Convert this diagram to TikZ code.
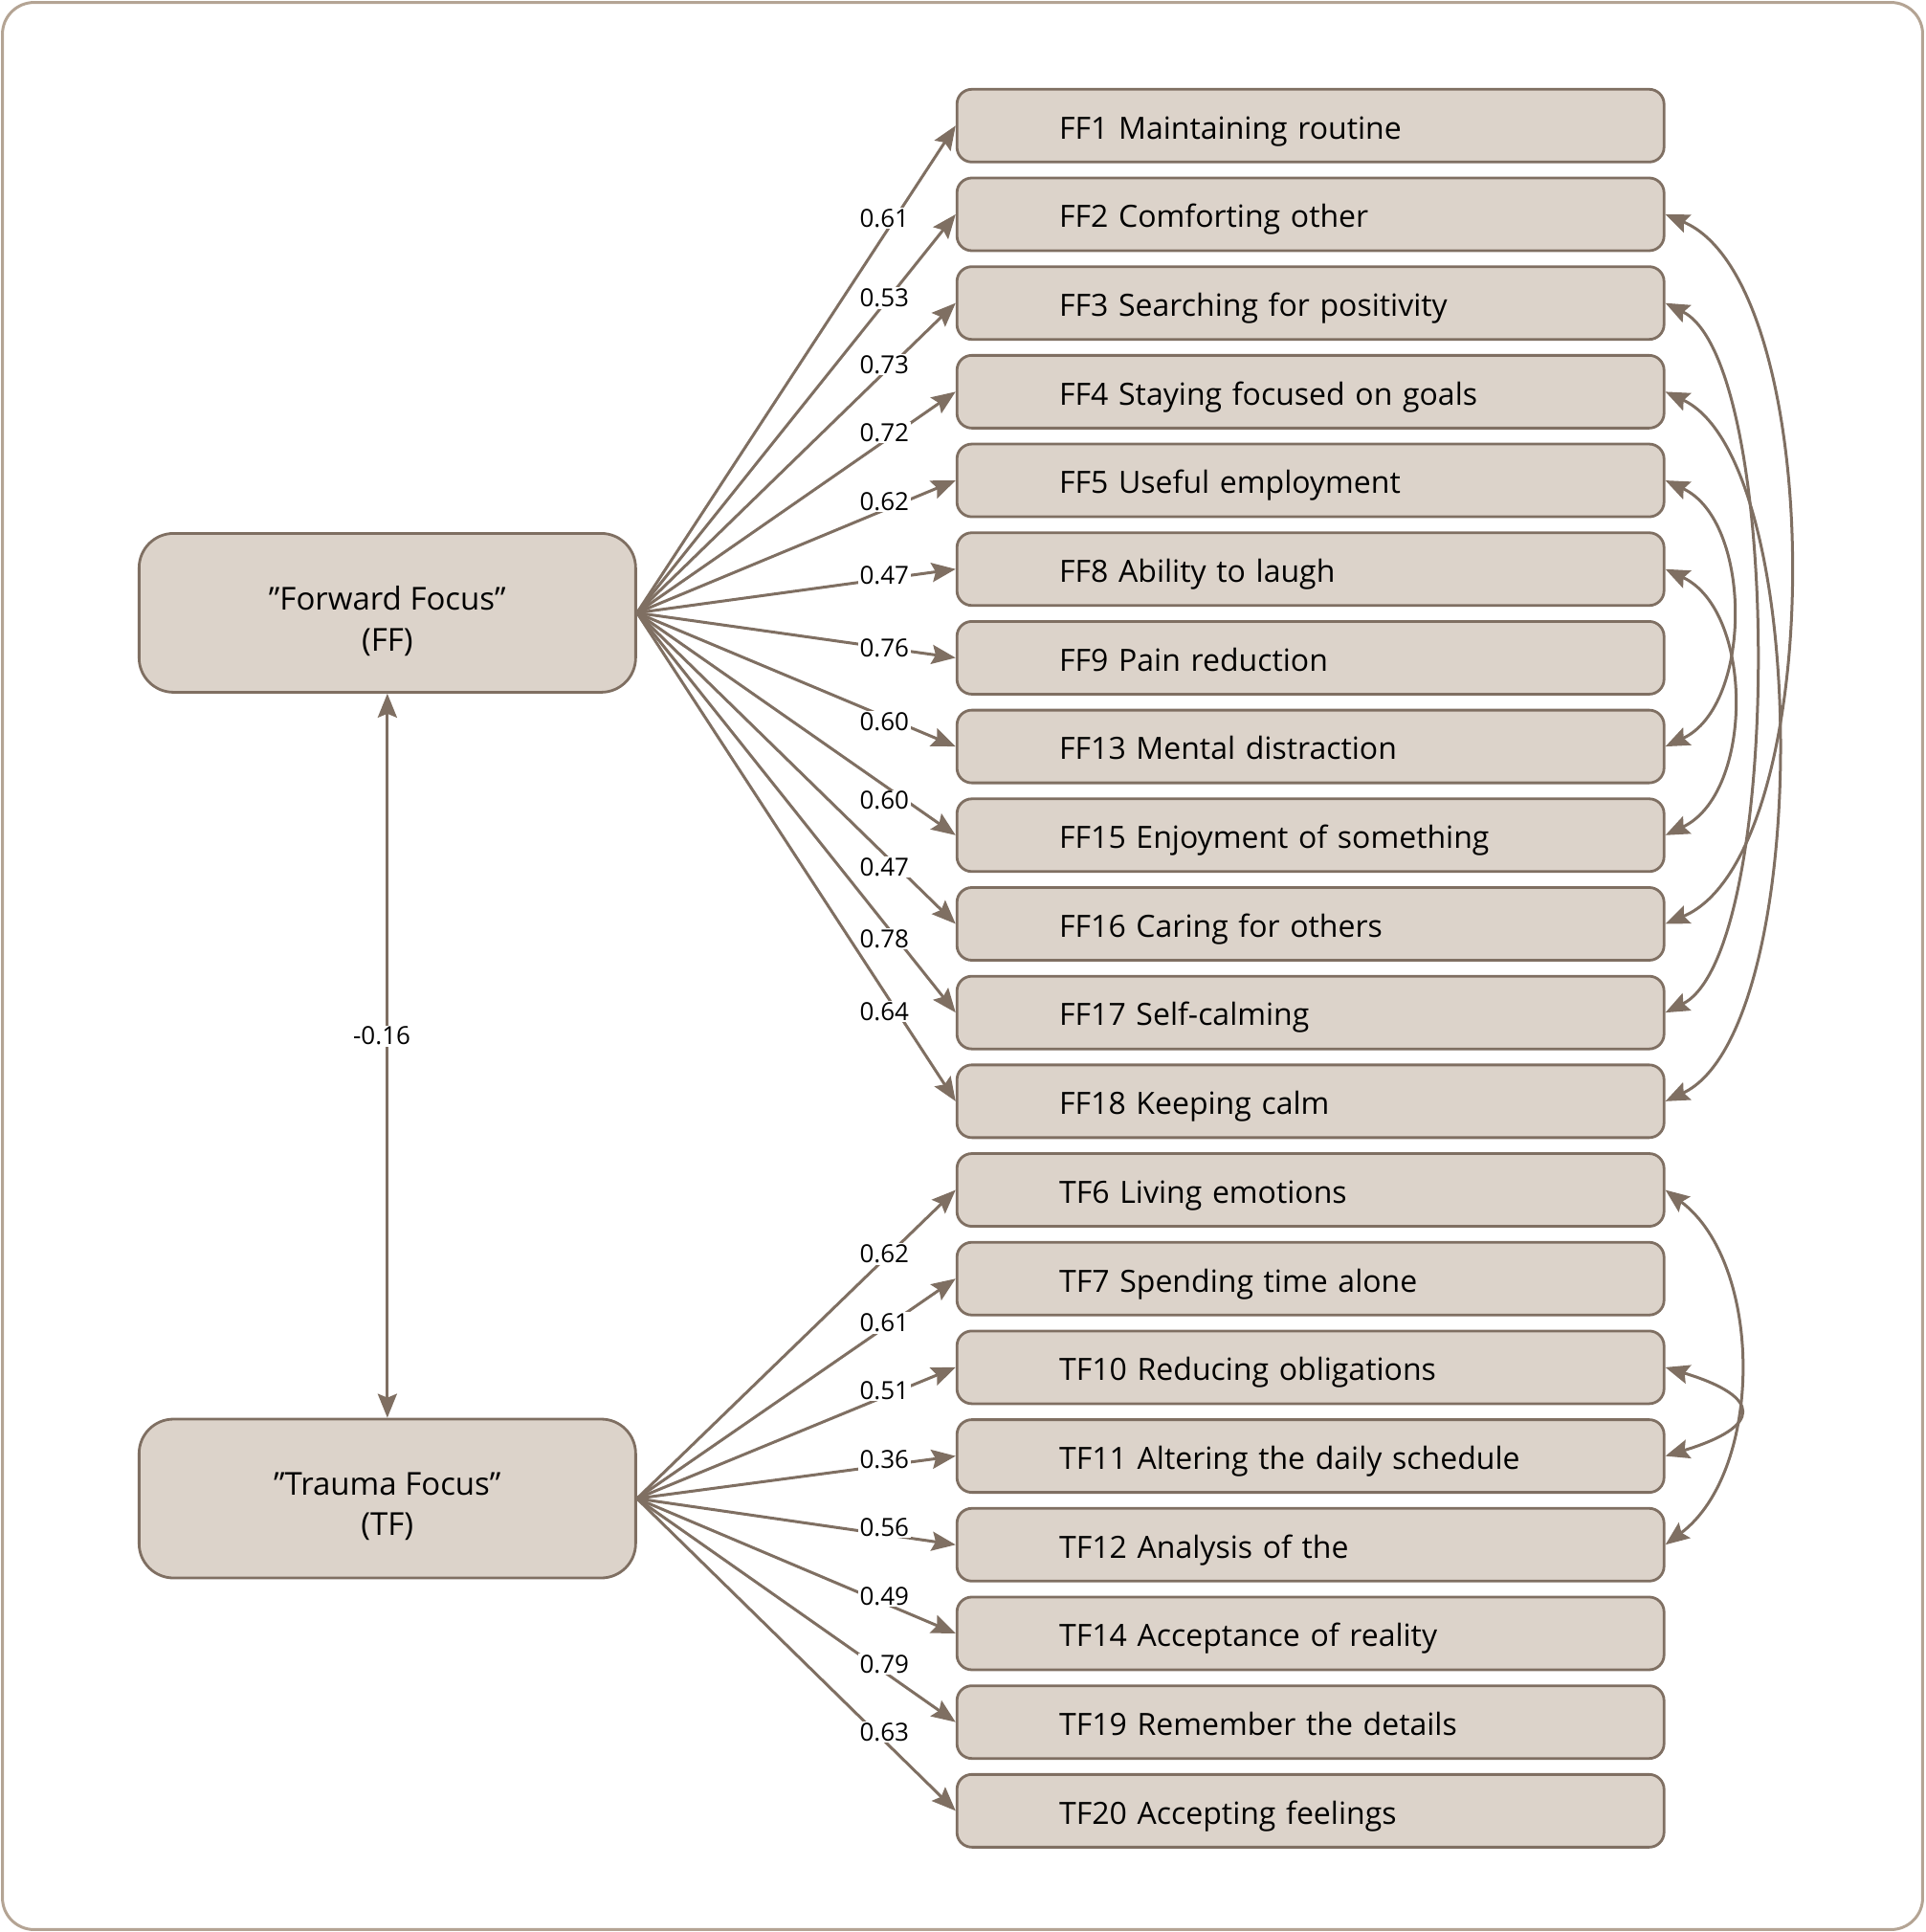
\documentclass[tikz,border=0pt]{standalone}
\usepackage{fontspec}
\setmainfont{Open Sans}
\usetikzlibrary{arrows.meta}
\definecolor{boxfill}{HTML}{DCD3CA}
\definecolor{boxline}{HTML}{7F6F62}
\definecolor{frameline}{HTML}{B4A494}
\begin{document}
\begin{tikzpicture}[x=1.2873pt,y=-1.2873pt,
  item/.style={draw=boxline, fill=boxfill, line width=2.8pt, rounded corners=15.5pt,
    minimum height=76pt, text width=739pt, inner xsep=0pt, inner ysep=0pt,
    text height=34pt, text depth=6.4pt,
    align=left, font=\fontsize{32}{38}\selectfont},
  factor/.style={draw=boxline, fill=boxfill, line width=2.8pt, rounded corners=36pt,
    minimum width=519pt, minimum height=166pt},
  factortext/.style={align=center, yshift=-8.4pt, font=\fontsize{33}{42.5}\selectfont},
  lab/.style={fill=white, inner sep=1.5pt, font=\fontsize{26}{30}\selectfont},
  tip/.tip={Stealth[length=25pt,width=20pt,inset=4pt]},
  arr/.style={draw=boxline, line width=3pt, -tip},
  biarr/.style={draw=boxline, line width=3pt, tip-tip}]
\useasboundingbox (0,0) rectangle (1563,1568.4);
\draw[frameline, line width=3pt, rounded corners=33pt] (2,2) rectangle (1561,1566.4);

% factors
\node[factor, label={[factortext]center:{”Forward Focus”\\(FF)}}] (ff) at (314.5,497.5) {};
\node[factor, label={[factortext]center:{”Trauma Focus”\\(TF)}}] (tf) at (314.5,1216.5) {};

% items
\node[item] (f1)  at (1064,102) {\hspace*{107pt}FF1 Maintaining routine};
\node[item] (f2)  at (1064,174) {\hspace*{107pt}FF2 Comforting other};
\node[item] (f3)  at (1064,246) {\hspace*{107pt}FF3 Searching for positivity};
\node[item] (f4)  at (1064,318) {\hspace*{107pt}FF4 Staying focused on goals};
\node[item] (f5)  at (1064,390) {\hspace*{107pt}FF5 Useful employment};
\node[item] (f8)  at (1064,462) {\hspace*{107pt}FF8 Ability to laugh};
\node[item] (f9)  at (1064,534) {\hspace*{107pt}FF9 Pain reduction};
\node[item] (f13) at (1064,606) {\hspace*{107pt}FF13 Mental distraction};
\node[item] (f15) at (1064,678) {\hspace*{107pt}FF15 Enjoyment of something};
\node[item] (f16) at (1064,750) {\hspace*{107pt}FF16 Caring for others};
\node[item] (f17) at (1064,822) {\hspace*{107pt}FF17 Self-calming};
\node[item] (f18) at (1064,894) {\hspace*{107pt}FF18 Keeping calm};
\node[item] (t6)  at (1064,966) {\hspace*{107pt}TF6 Living emotions};
\node[item] (t7)  at (1064,1038) {\hspace*{107pt}TF7 Spending time alone};
\node[item] (t10) at (1064,1110) {\hspace*{107pt}TF10 Reducing obligations};
\node[item] (t11) at (1064,1182) {\hspace*{107pt}TF11 Altering the daily schedule};
\node[item] (t12) at (1064,1254) {\hspace*{107pt}TF12 Analysis of the};
\node[item] (t14) at (1064,1326) {\hspace*{107pt}TF14 Acceptance of reality};
\node[item] (t19) at (1064,1398) {\hspace*{107pt}TF19 Remember the details};
\node[item] (t20) at (1064,1470) {\hspace*{107pt}TF20 Accepting feelings};

% loadings
\foreach \n in {f1,f2,f3,f4,f5,f8,f9,f13,f15,f16,f17,f18}
  \draw[arr] (ff.east) -- (\n.west);
\foreach \n in {t6,t7,t10,t11,t12,t14,t19,t20}
  \draw[arr] (tf.east) -- (\n.west);

% factor correlation
\draw[biarr] (ff.south) -- (tf.north);

% labels
\node[lab] (l1)  at (718,177) {0.61};
\node[lab] (l2)  at (718,242) {0.53};
\node[lab] (l3)  at (718,296) {0.73};
\node[lab] (l4)  at (718,351) {0.72};
\node[lab] (l5)  at (718,407) {0.62};
\node[lab] (l8)  at (718,467) {0.47};
\node[lab] (l9)  at (718,526) {0.76};
\node[lab] (l13) at (718,586) {0.60};
\node[lab] (l15) at (718,650) {0.60};
\node[lab] (l16) at (718,704) {0.47};
\node[lab] (l17) at (718,762) {0.78};
\node[lab] (l18) at (718,821) {0.64};
\node[lab] (m6)  at (718,1018) {0.62};
\node[lab] (m7)  at (718,1074) {0.61};
\node[lab] (m10) at (718,1129) {0.51};
\node[lab] (m11) at (718,1185) {0.36};
\node[lab] (m12) at (718,1240) {0.56};
\node[lab] (m14) at (718,1296) {0.49};
\node[lab] (m19) at (718,1351) {0.79};
\node[lab] (m20) at (718,1406) {0.63};
\node[lab] (lc)  at (310,841) {-0.16};

% residual covariances
\draw[biarr] (f2.east) .. controls +(133,56) and +(133,-56) .. (f16.east);
\draw[biarr] (f3.east) .. controls +(96,48) and +(96,-48) .. (f17.east);
\draw[biarr] (f4.east) .. controls +(120,56) and +(120,-56) .. (f18.east);
\draw[biarr] (f5.east) .. controls +(71,33) and +(71,-33) .. (f13.east);
\draw[biarr] (f8.east) .. controls +(72,34) and +(72,-34) .. (f15.east);
\draw[biarr] (t6.east) .. controls +(80,60) and +(80,-60) .. (t12.east);
\draw[biarr] (t10.east) .. controls +(79,24) and +(79,-24) .. (t11.east);
\end{tikzpicture}
\end{document}
